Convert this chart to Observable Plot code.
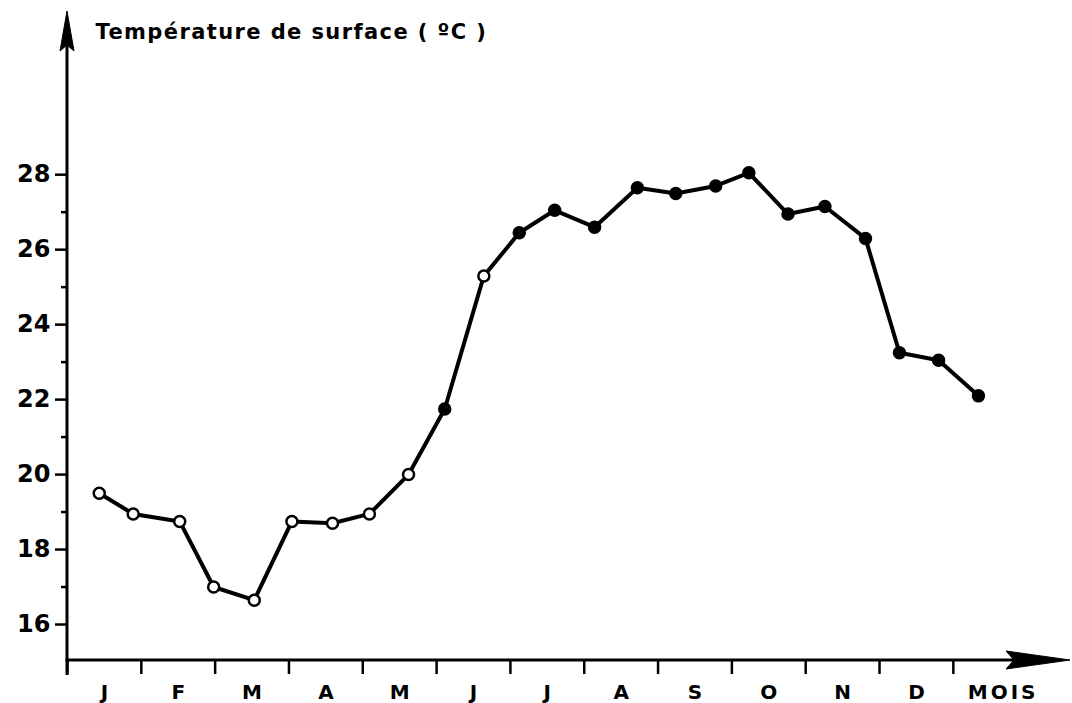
<!DOCTYPE html>
<html><head><meta charset="utf-8">
<script src="https://cdn.jsdelivr.net/npm/d3@7"></script>
<script src="https://cdn.jsdelivr.net/npm/@observablehq/plot@0.6"></script>
<style>
html,body{margin:0;padding:0;background:#fff;overflow:hidden}
.title-text text{letter-spacing:1.4px}
.mois-text text{letter-spacing:3px}
.month-text text{letter-spacing:0px}
</style>
</head><body><div id="chart"></div>
<script>
const monthLabels = ["J","F","M","A","M","J","J","A","S","O","N","D"];
const axisLabelX = "MOIS";
const title = "Température de surface ( ºC )";
// time of each observation, in months since 1 January
const sampleMonth = [0.43,0.89,1.52,1.98,2.53,3.04,3.59,4.09,4.62,5.11,5.64,6.12,6.60,7.14,7.72,8.24,8.78,9.23,9.76,10.26,10.81,11.27,11.80,12.34];
// surface temperature (°C)
const temperature = [19.5,18.95,18.75,17.0,16.65,18.75,18.7,18.95,20.0,21.75,25.3,26.45,27.05,26.6,27.65,27.5,27.7,28.05,26.95,27.15,26.3,23.25,23.05,22.1];
const yMajorTicks = [16,18,20,22,24,26,28];
const yMinorTicks = [17,19,21,23,25,27];
const monthBoundaries = d3.range(0, 13);

const xDomain = [0, 13.56];
const yDomain = [15.04, 32.3];

const data = sampleMonth.map((m, i) => ({m, t: temperature[i], i}));
const hollow = new Set([0,1,2,3,4,5,6,7,8,10]);

function axesArrows(index, scales, values, dims) {
  const x0 = scales.x(xDomain[0]);
  const y0 = scales.y(yDomain[0]);
  const yTop = scales.y(yDomain[1]);
  const xEnd = scales.x(xDomain[1]);
  const g = d3.create("svg:g").attr("fill", "black").attr("stroke", "black");
  // y axis line + arrow
  g.append("line").attr("x1", x0).attr("x2", x0).attr("y1", y0 + 15).attr("y2", yTop + 20).attr("stroke-width", 3);
  g.append("path").attr("d", `M${x0},${yTop - 2}L${x0 - 7},${yTop + 38}L${x0},${yTop + 32}L${x0 + 7},${yTop + 38}Z`).attr("stroke-width", 1);
  // x axis line + arrow
  g.append("line").attr("x1", x0 - 1.5).attr("x2", xEnd - 30).attr("y1", y0).attr("y2", y0).attr("stroke-width", 3);
  g.append("path").attr("d", `M${xEnd + 2},${y0}L${xEnd - 62},${y0 - 9}L${xEnd - 54},${y0}L${xEnd - 62},${y0 + 9}Z`).attr("stroke-width", 1);
  return g.node();
}

const chart = Plot.plot({
  width: 1072,
  height: 703,
  marginLeft: 67,
  marginRight: 4,
  marginTop: 13,
  marginBottom: 43,
  style: {fontFamily: "DejaVu Sans", fontWeight: "bold", color: "black", background: "white"},
  x: {domain: xDomain, axis: null},
  y: {domain: yDomain, axis: null},
  marks: [
    Plot.axisY({ticks: yMajorTicks, tickSize: 12, tickPadding: 5, fontSize: 24, strokeWidth: 2.5, label: null}),
    Plot.axisY({ticks: yMinorTicks, tickSize: 6, tickFormat: () => "", strokeWidth: 2.5, label: null}),
    Plot.axisX({ticks: monthBoundaries, tickSize: 14, tickFormat: () => "", strokeWidth: 2.5, label: null}),
    Plot.text(monthLabels, {x: (d, i) => i + 0.5, frameAnchor: "bottom", dy: 38, fontSize: 20, fontWeight: "bold", text: d => d, className: "month-text"}),
    Plot.text([axisLabelX], {frameAnchor: "bottom-right", textAnchor: "end", dx: -30, dy: 38, fontSize: 20, fontWeight: "bold", text: d => d, className: "mois-text"}),
    axesArrows,
    Plot.text([title], {frameAnchor: "top-left", textAnchor: "start", dx: 28, dy: 11, fontSize: 21, fontWeight: "bold", text: d => d, className: "title-text"}),
    Plot.line(data, {x: "m", y: "t", stroke: "black", strokeWidth: 4}),
    Plot.dot(data, {x: "m", y: "t", r: 5.5, stroke: "black", strokeWidth: 2.5, fill: d => hollow.has(d.i) ? "white" : "black"})
  ]
});
document.getElementById("chart").appendChild(chart);
</script>
</body></html>
